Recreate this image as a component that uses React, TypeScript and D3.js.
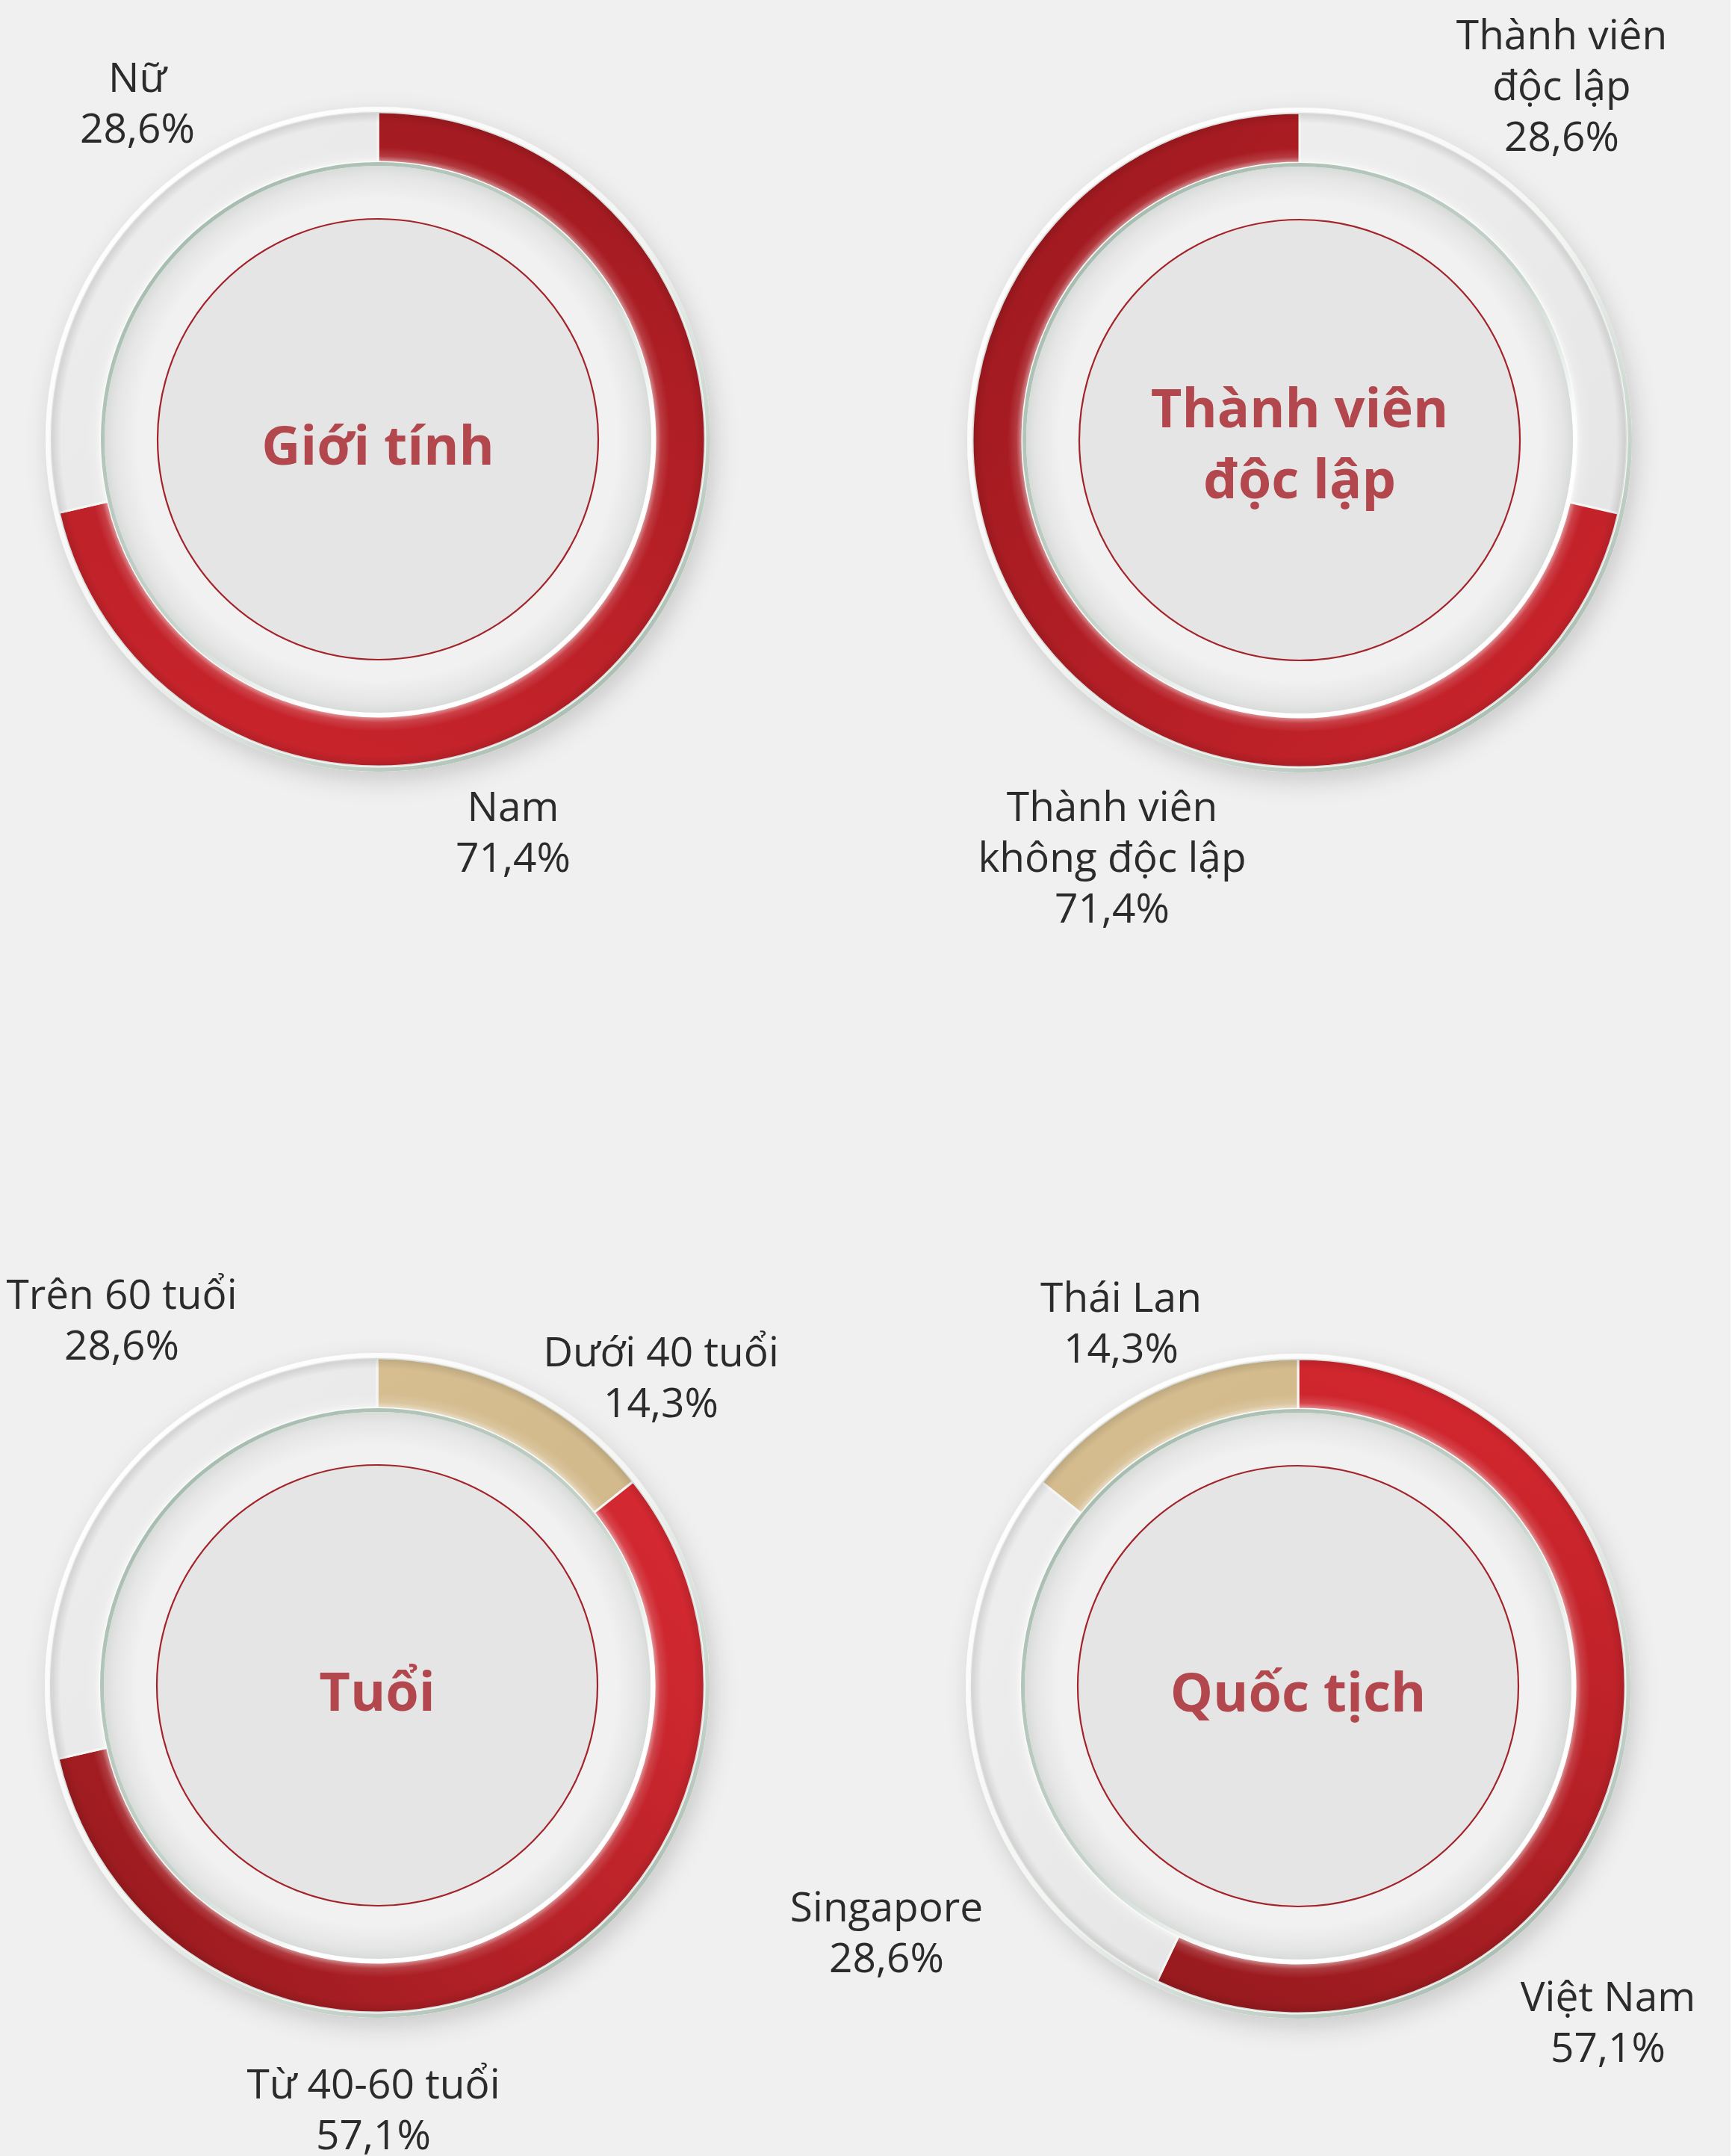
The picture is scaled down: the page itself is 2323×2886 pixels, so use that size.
import * as d3 from 'd3'

// ---- data ----
const genderNames = [['Nam'], ['Nữ']]
const genderValues = [71.4, 28.6]
const genderKinds = ['red', 'gray']

const boardNames = [['Thành viên', 'độc lập'], ['Thành viên', 'không độc lập']]
const boardValues = [28.6, 71.4]
const boardKinds = ['gray', 'red']

const ageNames = [['Dưới 40 tuổi'], ['Từ 40-60 tuổi'], ['Trên 60 tuổi']]
const ageValues = [14.3, 57.1, 28.6]
const ageKinds = ['tan', 'red', 'gray']

const nationNames = [['Việt Nam'], ['Singapore'], ['Thái Lan']]
const nationValues = [57.1, 28.6, 14.3]
const nationKinds = ['red', 'gray', 'tan']

const titles = [['Giới tính'], ['Thành viên', 'độc lập'], ['Tuổi'], ['Quốc tịch']]

const charts = [
  { names: genderNames, values: genderValues, kinds: genderKinds },
  { names: boardNames, values: boardValues, kinds: boardKinds },
  { names: ageNames, values: ageValues, kinds: ageKinds },
  { names: nationNames, values: nationValues, kinds: nationKinds },
]

// ---- layout ----
const W = 2323
const H = 2886
const R_RIM = 445
const R_OUT = 438
const R_IN = 371
const R_LINE = 366
const R_DISC = 295
const LINE_H = 68

const centers = [
  [506, 588],
  [1740, 589],
  [505, 2256],
  [1738, 2257],
]
// label anchor (center x, first baseline) per segment, absolute
const labelPos = [
  [[687, 1099], [184, 123]],
  [[2091, 66], [1489, 1099]],
  [[885, 1829], [500, 2809], [163, 1752]],
  [[2153, 2692], [1187, 2572], [1501, 1756]],
]
// red gradient direction per chart: [x1, y1, x2, y2, from, to]
const redGrad: [number, number, number, number, string, string][] = [
  [60, -440, -220, 420, '#a31b21', '#c9242c'],
  [-440, -150, 320, 420, '#a11a20', '#ca242c'],
  [380, -260, -380, 360, '#d62932', '#971a1e'],
  [220, -440, -140, 440, '#d6272f', '#961a1e'],
]

const fmt = (v: number) => v.toFixed(1).replace('.', ',') + '%'

const Donut = ({ i }: { i: number }) => {
  const chart = charts[i]
  const [cx, cy] = centers[i]
  const arcs = d3.pie<number>().sort(null).value((d) => d)(chart.values)
  const band = d3.arc<d3.PieArcDatum<number>>().innerRadius(R_IN).outerRadius(R_OUT)
  const ring = (r0: number, r1: number) =>
    d3.arc()({ innerRadius: r0, outerRadius: r1, startAngle: 0, endAngle: Math.PI * 2 }) || ''
  const g = redGrad[i]
  const fillFor = (k: string) =>
    k === 'red' ? `url(#red${i})` : k === 'tan' ? 'url(#tan)' : 'url(#gray)'
  const title = titles[i]

  return (
    <g>
      <defs>
        <linearGradient id={`red${i}`} gradientUnits="userSpaceOnUse" x1={g[0]} y1={g[1]} x2={g[2]} y2={g[3]}>
          <stop offset="0" stopColor={g[4]} />
          <stop offset="1" stopColor={g[5]} />
        </linearGradient>
      </defs>
      <g transform={`translate(${cx},${cy})`}>
        <circle r={R_RIM} fill="#f0f0f0" filter="url(#shadow)" />
        <path d={ring(R_OUT - 2, R_RIM)} fill="url(#rim)" />
        {arcs.map((a, j) => (
          <path
            key={j}
            d={band(a) || undefined}
            fill={fillFor(chart.kinds[j])}
            stroke="#f4f6f4"
            strokeWidth={3}
          />
        ))}
        <path d={ring(R_IN, R_OUT)} fill="url(#bevel)" pointerEvents="none" />
        <path d={ring(R_LINE, R_IN)} fill="url(#line)" />
        <circle r={R_LINE} fill="url(#innerShade)" />
        <circle r={R_DISC} fill="#e5e5e5" stroke="#a3232a" strokeWidth={2.2} />
        {title.map((t, k) => (
          <text
            key={k}
            x={0}
            y={title.length === 1 ? 34 : -17 + k * 95}
            textAnchor="middle"
            fontFamily="'Open Sans', sans-serif"
            fontWeight={700}
            fontSize={72}
            fill="#b2474d"
          >
            {t}
          </text>
        ))}
      </g>
      {arcs.map((a, j) => {
        const [lx, ly] = labelPos[i][j]
        const lines = [...chart.names[j], fmt(chart.values[j])]
        return (
          <text
            key={j}
            textAnchor="middle"
            fontFamily="'Open Sans', sans-serif"
            fontSize={55}
            fill="#2b2b2b"
          >
            {lines.map((l, k) => (
              <tspan key={k} x={lx} y={ly + k * LINE_H}>
                {l}
              </tspan>
            ))}
          </text>
        )
      })}
    </g>
  )
}

export default function App() {
  return (
    <>
      <style>{`body{margin:0;}`}</style>
      <svg width={W} height={H} viewBox={`0 0 ${W} ${H}`} style={{ display: 'block' }}>
        <defs>
          <filter id="shadow" x="-30%" y="-30%" width="160%" height="160%">
            <feDropShadow dx={6} dy={12} stdDeviation={16} floodColor="#000" floodOpacity={0.16} />
          </filter>
          <linearGradient id="rim" x1="0.15" y1="0.1" x2="0.85" y2="0.95">
            <stop offset="0" stopColor="#ffffff" />
            <stop offset="0.5" stopColor="#f3f5f3" />
            <stop offset="0.8" stopColor="#c2d0c7" />
            <stop offset="1" stopColor="#a3b8ab" />
          </linearGradient>
          <linearGradient id="line" x1="0.15" y1="0.1" x2="0.85" y2="0.95">
            <stop offset="0" stopColor="#a6bcaf" />
            <stop offset="0.5" stopColor="#c6d3cb" />
            <stop offset="0.75" stopColor="#ffffff" />
            <stop offset="1" stopColor="#ffffff" />
          </linearGradient>
          <linearGradient id="gray" x1="0" y1="0" x2="1" y2="1">
            <stop offset="0" stopColor="#eeeeee" />
            <stop offset="1" stopColor="#e6e6e6" />
          </linearGradient>
          <linearGradient id="tan" x1="0" y1="0" x2="1" y2="1">
            <stop offset="0" stopColor="#d6be91" />
            <stop offset="1" stopColor="#d2b98b" />
          </linearGradient>
          <radialGradient id="bevel" cx="0.5" cy="0.5" r="0.5">
            <stop offset={R_IN / R_OUT} stopColor="#ffffff" stopOpacity={0.55} />
            <stop offset={(R_IN + 8) / R_OUT} stopColor="#ffffff" stopOpacity={0.14} />
            <stop offset={(R_IN + 20) / R_OUT} stopColor="#ffffff" stopOpacity={0} />
            <stop offset={(R_OUT - 14) / R_OUT} stopColor="#000000" stopOpacity={0} />
            <stop offset="1" stopColor="#000000" stopOpacity={0.12} />
          </radialGradient>
          <radialGradient id="innerShade" cx="0.5" cy="0.5" r="0.5">
            <stop offset="0.88" stopColor="#f1f1f1" />
            <stop offset="0.96" stopColor="#e6e6e6" />
            <stop offset="1" stopColor="#d8dcd9" />
          </radialGradient>
        </defs>
        <rect width={W} height={H} fill="#f0f0f0" />
        <rect x={2317} width={W - 2317} height={H} fill="#ffffff" />
        {charts.map((_, i) => (
          <Donut key={i} i={i} />
        ))}
      </svg>
    </>
  )
}
